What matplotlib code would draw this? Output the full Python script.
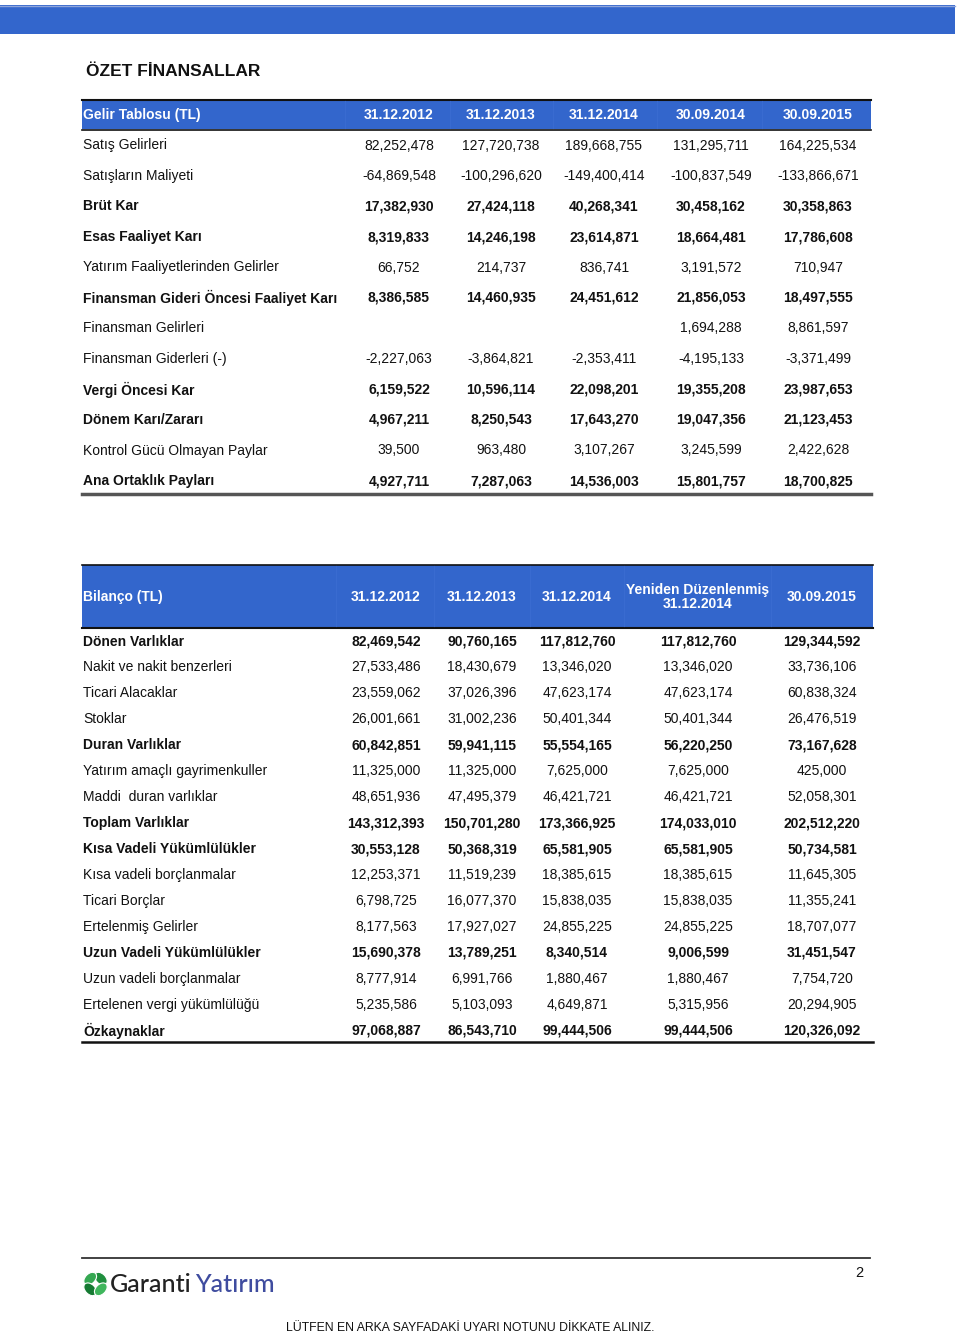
import math
import matplotlib
matplotlib.use("Agg")
import matplotlib.pyplot as plt
from matplotlib.patches import Rectangle, Ellipse

plt.rcParams['font.family'] = ['Liberation Sans', 'DejaVu Sans']

# ---------------- data ----------------
title = "ÖZET FİNANSALLAR"

inc_header = "Gelir Tablosu (TL)"
inc_periods = ["31.12.2012", "31.12.2013", "31.12.2014", "30.09.2014", "30.09.2015"]
inc_labels = ["Satış Gelirleri", "Satışların Maliyeti", "Brüt Kar", "Esas Faaliyet Karı",
              "Yatırım Faaliyetlerinden Gelirler", "Finansman Gideri Öncesi Faaliyet Karı",
              "Finansman Gelirleri", "Finansman Giderleri (-)", "Vergi Öncesi Kar",
              "Dönem Karı/Zararı", "Kontrol Gücü Olmayan Paylar", "Ana Ortaklık Payları"]
inc_bold = [False, False, True, True, False, True, False, False, True, True, False, True]
inc_values = [
    [82252478, 127720738, 189668755, 131295711, 164225534],
    [-64869548, -100296620, -149400414, -100837549, -133866671],
    [17382930, 27424118, 40268341, 30458162, 30358863],
    [8319833, 14246198, 23614871, 18664481, 17786608],
    [66752, 214737, 836741, 3191572, 710947],
    [8386585, 14460935, 24451612, 21856053, 18497555],
    [None, None, None, 1694288, 8861597],
    [-2227063, -3864821, -2353411, -4195133, -3371499],
    [6159522, 10596114, 22098201, 19355208, 23987653],
    [4967211, 8250543, 17643270, 19047356, 21123453],
    [39500, 963480, 3107267, 3245599, 2422628],
    [4927711, 7287063, 14536003, 15801757, 18700825],
]

bal_header = "Bilanço (TL)"
bal_periods = ["31.12.2012", "31.12.2013", "31.12.2014", "Yeniden Düzenlenmiş\n31.12.2014", "30.09.2015"]
bal_labels = ["Dönen Varlıklar", "Nakit ve nakit benzerleri", "Ticari Alacaklar", "Stoklar",
              "Duran Varlıklar", "Yatırım amaçlı gayrimenkuller", "Maddi  duran varlıklar",
              "Toplam Varlıklar", "Kısa Vadeli Yükümlülükler", "Kısa vadeli borçlanmalar",
              "Ticari Borçlar", "Ertelenmiş Gelirler", "Uzun Vadeli Yükümlülükler",
              "Uzun vadeli borçlanmalar", "Ertelenen vergi yükümlülüğü", "Özkaynaklar"]
bal_bold = [True, False, False, False, True, False, False, True, True, False, False, False,
            True, False, False, True]
bal_values = [
    [82469542, 90760165, 117812760, 117812760, 129344592],
    [27533486, 18430679, 13346020, 13346020, 33736106],
    [23559062, 37026396, 47623174, 47623174, 60838324],
    [26001661, 31002236, 50401344, 50401344, 26476519],
    [60842851, 59941115, 55554165, 56220250, 73167628],
    [11325000, 11325000, 7625000, 7625000, 425000],
    [48651936, 47495379, 46421721, 46421721, 52058301],
    [143312393, 150701280, 173366925, 174033010, 202512220],
    [30553128, 50368319, 65581905, 65581905, 50734581],
    [12253371, 11519239, 18385615, 18385615, 11645305],
    [6798725, 16077370, 15838035, 15838035, 11355241],
    [8177563, 17927027, 24855225, 24855225, 18707077],
    [15690378, 13789251, 8340514, 9006599, 31451547],
    [8777914, 6991766, 1880467, 1880467, 7754720],
    [5235586, 5103093, 4649871, 5315956, 20294905],
    [97068887, 86543710, 99444506, 99444506, 120326092],
]

footer_note = "LÜTFEN EN ARKA SAYFADAKİ UYARI NOTUNU DİKKATE ALINIZ."
page_no = "2"
logo_words = ["Garanti", "Yatırım"]

# ---------------- drawing ----------------
BLUE = "#3366cc"
SEP = "#396bd0"
TXT = "#111111"

fig = plt.figure(figsize=(9.6, 13.33), dpi=100)
ax = fig.add_axes([0, 0, 1, 1])
ax.set_xlim(0, 960)
ax.set_ylim(1333, 0)
ax.axis("off")

# top banner
ax.add_patch(Rectangle((0, 5), 955, 29, facecolor=BLUE, edgecolor="none"))
ax.plot([0, 955], [5.5, 5.5], color="#8fa6dc", lw=1)

ax.text(86, 72, title, fontsize=12.5, fontweight="bold", color=TXT, va="center", ha="left")

FS = 10.0
HFS = 10.0
DY = 1.0  # small downward offset for text baseline alignment


def fmt(v):
    return "" if v is None else f"{v:,}"


# ---- income statement ----
x0, x1 = 82, 871
ax.add_patch(Rectangle((x0, 100), x1 - x0, 29, facecolor=BLUE, edgecolor="none"))
ax.plot([x0, x1], [99.5, 99.5], color="#111111", lw=1.5)
ax.plot([x0, x1], [129.5, 129.5], color="#111111", lw=1.2)
inc_cx = [399, 501, 604, 711, 818]
for xs in [345, 450, 553, 657, 762]:
    ax.plot([xs, xs], [101, 128], color=SEP, lw=0.8)
ax.text(83, 114 + DY, inc_header, fontsize=HFS, fontweight="bold", color="white", va="center")
for cx, p in zip(inc_cx, inc_periods):
    ax.text(cx, 114 + DY, p, fontsize=HFS, fontweight="bold", color="white", va="center", ha="center")

row_y0, row_dy = 144.5, 30.5
for i, (lab, b, vals) in enumerate(zip(inc_labels, inc_bold, inc_values)):
    y = row_y0 + i * row_dy + DY
    w = "bold" if b else "normal"
    ax.text(83, y, lab, fontsize=FS, fontweight=w, color=TXT, va="center")
    for cx, v in zip(inc_cx, vals):
        ax.text(cx, y, fmt(v), fontsize=FS, fontweight=w, color=TXT, va="center", ha="center")
ax.plot([x0, x1], [494, 494], color="#555555", lw=2.5)

# ---- balance sheet ----
bx0, bx1 = 82, 873
ax.add_patch(Rectangle((bx0, 565), bx1 - bx0, 62, facecolor=BLUE, edgecolor="none"))
ax.plot([bx0, bx1], [564.5, 564.5], color="#111111", lw=1.2)
ax.plot([bx0, bx1], [627.5, 627.5], color="#111111", lw=1.5)
bal_cx = [386, 482, 577, 698, 822]
for xs in [336, 434, 530, 624, 771]:
    ax.plot([xs, xs], [566, 626], color=SEP, lw=0.8)
ax.text(83, 596 + DY, bal_header, fontsize=HFS, fontweight="bold", color="white", va="center")
for cx, p in zip(bal_cx, bal_periods):
    ax.text(cx, 596 + DY, p, fontsize=HFS, fontweight="bold", color="white", va="center",
            ha="center", linespacing=1.05)

brow_y0, brow_dy = 640.5, 25.95
for i, (lab, b, vals) in enumerate(zip(bal_labels, bal_bold, bal_values)):
    y = brow_y0 + i * brow_dy + DY
    w = "bold" if b else "normal"
    ax.text(83, y, lab, fontsize=FS, fontweight=w, color=TXT, va="center")
    for cx, v in zip(bal_cx, vals):
        ax.text(cx, y, fmt(v), fontsize=FS, fontweight=w, color=TXT, va="center", ha="center")
ax.plot([bx0, bx1], [1042, 1042], color="#111111", lw=1.8)

# ---- footer ----
ax.plot([82, 870], [1258, 1258], color="#333333", lw=1.3)
# clover logo
greens = ["#1f8f3e", "#35a852", "#157a32", "#3fb65c"]
for k, ang in enumerate([45, 135, 225, 315]):
    r = 7.5
    cx = 95.5 + r * math.cos(math.radians(ang))
    cy = 1284 - r * math.sin(math.radians(ang))
    ax.add_patch(Ellipse((cx, cy), 15, 10, angle=ang, facecolor=greens[k], edgecolor="white", lw=0.8))
t1 = ax.text(110, 1285, logo_words[0], fontsize=18, family="Lato", fontweight="medium",
             color="#222222", va="center", ha="left")
fig.canvas.draw()
bb = t1.get_window_extent(renderer=fig.canvas.get_renderer())
x_end = bb.x1 * 960 / fig.bbox.width
ax.text(x_end + 3, 1285, logo_words[1], fontsize=18, family="Lato", fontweight="medium",
        color="#3f4c9f", va="center", ha="left")
ax.text(859, 1273, page_no, fontsize=10.5, color=TXT, va="center", ha="center")
ax.text(470, 1328, footer_note, fontsize=8.8, color=TXT, va="center", ha="center")

fig.savefig("out.png", dpi=100)
